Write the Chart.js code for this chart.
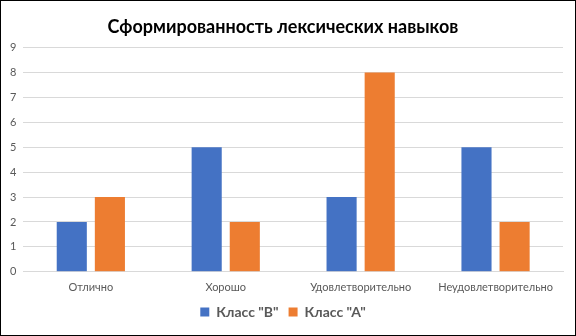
<!DOCTYPE html>
<html>
<head>
<meta charset="utf-8">
<script src="https://cdn.jsdelivr.net/npm/chart.js@4"></script>
<style>
  body { margin: 0; background: #fff; }
  #wrap { width: 576px; height: 336px; box-sizing: border-box; border: 1px solid #000; position: relative; }
</style>
</head>
<body>
<div id="wrap"><canvas id="myChart" width="574" height="334"></canvas></div>
<script>
// Оценки по классам
const categories = ['Отлично', 'Хорошо', 'Удовлетворительно', 'Неудовлетворительно'];
const classB = [2, 5, 3, 5];
const classA = [3, 2, 8, 2];
const seriesNames = ['Класс "В"', 'Класс "А"'];
const yTicks = [0, 1, 2, 3, 4, 5, 6, 7, 8, 9];

const font = "Lato, 'Open Sans', sans-serif";

const data = {
    labels: categories,
    datasets: [{
        label: seriesNames[0],
        data: classB,
        backgroundColor: '#4472C4',
        categoryPercentage: 0.565,
        barPercentage: 0.79
    }, {
        label: seriesNames[1],
        data: classA,
        backgroundColor: '#ED7D31',
        categoryPercentage: 0.565,
        barPercentage: 0.79
    }]
};

const config = {
    type: 'bar',
    data: data,
    options: {
        responsive: false,
        animation: false,
        layout: { padding: { left: 2, right: 12, top: 11, bottom: 6 } },
        plugins: {
            title: {
                display: true,
                text: 'Сформированность лексических навыков',
                color: '#000',
                font: { family: font, size: 18, weight: 'bold' },
                padding: { top: 4, bottom: 10 }
            },
            legend: {
                position: 'bottom',
                labels: {
                    color: '#595959',
                    font: { family: font, size: 14, weight: 'bold' },
                    boxWidth: 9,
                    boxHeight: 9,
                    padding: 10
                }
            },
            tooltip: { enabled: false }
        },
        scales: {
            x: {
                grid: { display: false },
                border: { color: '#d9d9d9' },
                ticks: { color: '#595959', font: { family: font, size: 11 }, padding: 1 }
            },
            y: {
                min: 0,
                max: 9,
                afterBuildTicks: axis => { axis.ticks = yTicks.map(v => ({ value: v })); },
                grid: { color: '#d9d9d9', drawTicks: false },
                border: { display: false },
                ticks: { color: '#595959', font: { family: font, size: 11 }, padding: 7 }
            }
        }
    }
};

const myChart = new Chart(document.getElementById('myChart'), config);
</script>
</body>
</html>
